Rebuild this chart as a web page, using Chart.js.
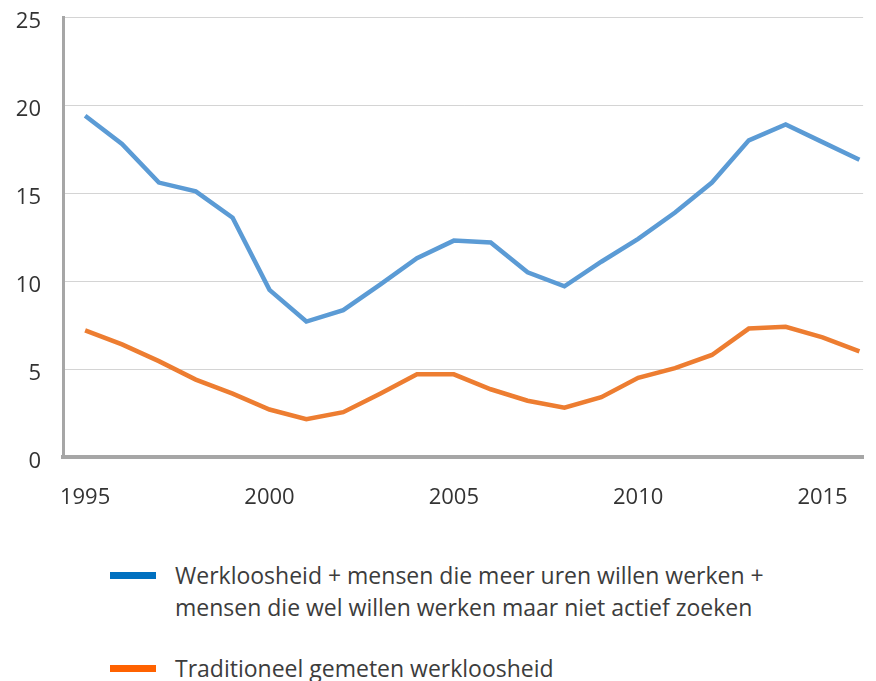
<!DOCTYPE html>
<html>
<head>
<meta charset="utf-8">
<script src="https://cdn.jsdelivr.net/npm/chart.js@4"></script>
<style>
  body { margin: 0; background: #fff; font-family: "Open Sans", sans-serif; }
  #wrap { position: relative; top: -18px; width: 876px; height: 548px; }
  .legend { position: absolute; left: 110px; color: #3c3c3c; font-size: 23px; line-height: 32px; }
  .legend .sw { position: absolute; left: 0; width: 46px; height: 7px; }
  .legend .txt { position: absolute; left: 65px; white-space: nowrap; }
</style>
</head>
<body>
<div id="wrap"><canvas id="lineChart"></canvas></div>
<div class="legend" style="top:559px">
  <div class="sw" style="top:13px;background:#0070c0"></div>
  <div class="txt" style="top:0">Werkloosheid + mensen die meer uren willen werken +<br>mensen die wel willen werken maar niet actief zoeken</div>
</div>
<div class="legend" style="top:652px">
  <div class="sw" style="top:13px;background:#ff6200"></div>
  <div class="txt" style="top:0">Traditioneel gemeten werkloosheid</div>
</div>
<script>
var years = [1995, 1996, 1997, 1998, 1999, 2000, 2001, 2002, 2003, 2004, 2005,
             2006, 2007, 2008, 2009, 2010, 2011, 2012, 2013, 2014, 2015, 2016];
var breed = [19.4, 17.8, 15.6, 15.1, 13.6, 9.5, 7.7, 8.35, 9.8, 11.3, 12.3,
             12.2, 10.5, 9.7, 11.1, 12.4, 13.9, 15.6, 18.0, 18.9, 17.9, 16.9];
var traditioneel = [7.2, 6.4, 5.45, 4.4, 3.6, 2.7, 2.15, 2.55, 3.6, 4.7, 4.7,
                    3.85, 3.2, 2.8, 3.4, 4.5, 5.05, 5.8, 7.3, 7.4, 6.8, 6.0];
var xTicks = [1995, 2000, 2005, 2010, 2015];
var yTicks = [0, 5, 10, 15, 20, 25];

function pts(vals) {
    return years.map(function (y, i) { return { x: y, y: vals[i] }; });
}

var LineData = {
    datasets: [{
        label: 'Werkloosheid + mensen die meer uren willen werken + mensen die wel willen werken maar niet actief zoeken',
        data: pts(breed),
        borderColor: '#5b9bd5',
        borderWidth: 4.5,
        pointRadius: 0,
        tension: 0
    }, {
        label: 'Traditioneel gemeten werkloosheid',
        data: pts(traditioneel),
        borderColor: '#ed7d31',
        borderWidth: 4.5,
        pointRadius: 0,
        tension: 0
    }]
};

var tickFont = { family: '"Open Sans", sans-serif', size: 22 };

var LineConfig = {
    type: 'line',
    data: LineData,
    options: {
        responsive: true,
        maintainAspectRatio: false,
        animation: false,
        layout: { padding: { top: 0, right: 6, left: 0, bottom: 0 } },
        plugins: { legend: { display: false }, tooltip: { enabled: false } },
        scales: {
            x: {
                type: 'linear',
                min: 1994.4,
                max: 2016.1,
                afterBuildTicks: function (s) { s.ticks = xTicks.map(function (v) { return { value: v }; }); },
                afterFit: function (s) { s.height = 73; },
                grid: { display: false, drawTicks: false },
                border: { color: '#a6a6a6', width: 4 },
                ticks: { font: tickFont, color: '#333', padding: 28, maxRotation: 0,
                         callback: function (v) { return String(v); } }
            },
            y: {
                min: 0,
                max: 25,
                afterBuildTicks: function (s) { s.ticks = yTicks.map(function (v) { return { value: v }; }); },
                afterFit: function (s) { s.width = 63; },
                grid: { color: '#d4d4d4', lineWidth: 1, drawTicks: false },
                border: { color: '#a6a6a6', width: 3, dash: [] },
                ticks: { font: tickFont, color: '#333', padding: 22, labelOffset: 5 }
            }
        }
    }
};

var lineChart = new Chart(document.getElementById('lineChart'), LineConfig);
</script>
</body>
</html>
